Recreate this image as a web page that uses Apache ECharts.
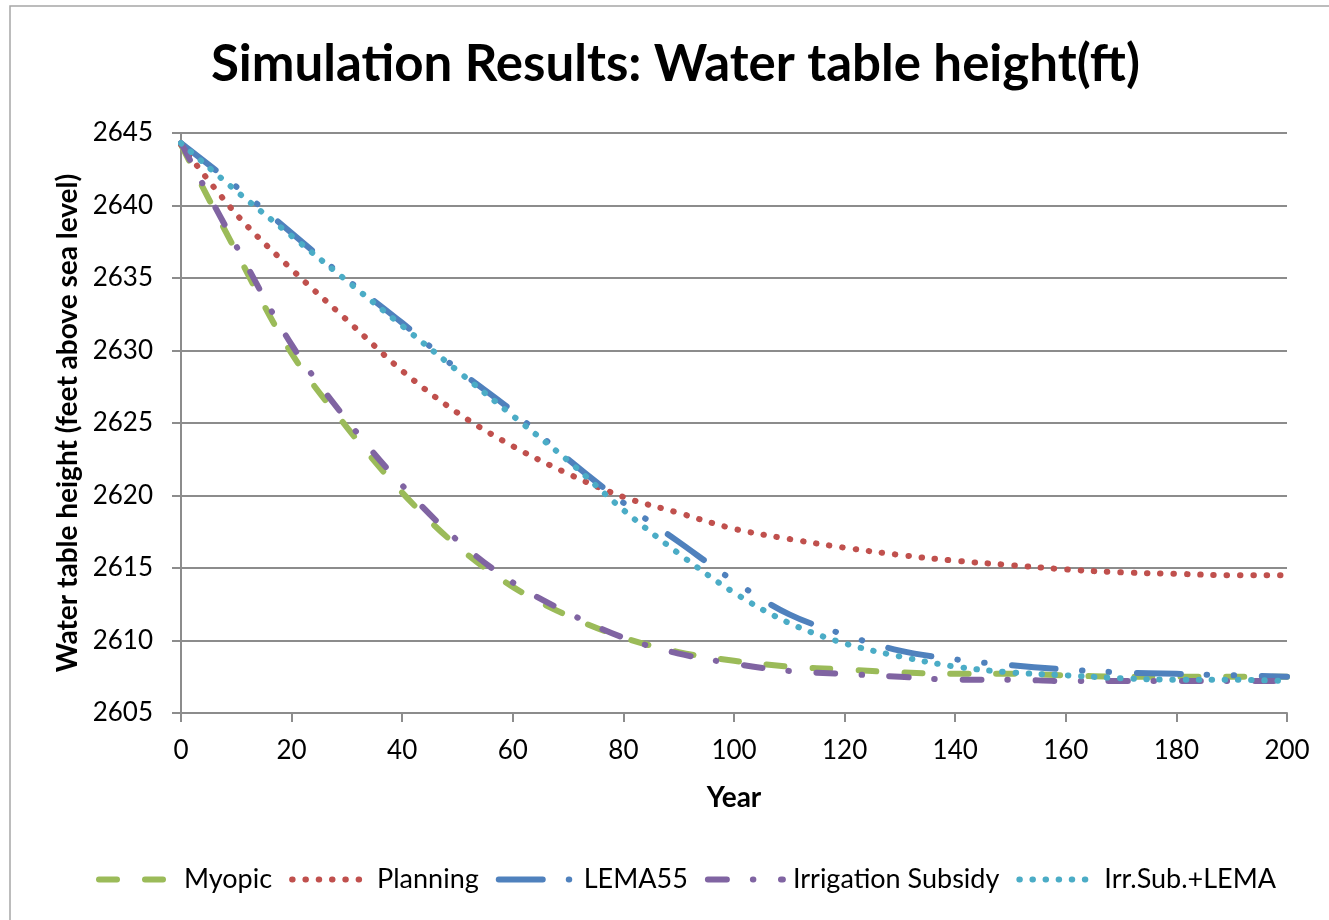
<!DOCTYPE html>
<html>
<head>
<meta charset="utf-8">
<title>Simulation Results: Water table height(ft)</title>
<script src="https://cdn.jsdelivr.net/npm/echarts@6/dist/echarts.min.js"></script>
<style>
  html, body { margin: 0; padding: 0; background: #ffffff; }
  #chart { width: 1329px; height: 920px; }
</style>
</head>
<body>
<div id="chart"></div>
<script>
// Simulated water table height (feet above sea level), sampled every 10 years
const years = [0, 10, 20, 30, 40, 50, 60, 70, 80, 90, 100, 110, 120, 130, 140, 150, 160, 170, 180, 190, 200];

const myopic = [2644.2, 2636.8, 2629.8, 2624.7, 2620.2, 2616.5, 2613.7, 2611.7, 2610.2, 2609.2, 2608.6,
  2608.2, 2608.0, 2607.8, 2607.7, 2607.7, 2607.6, 2607.5, 2607.5, 2607.5, 2607.5];
const planning = [2644.2, 2639.4, 2635.6, 2632.1, 2628.6, 2625.7, 2623.4, 2621.5, 2619.9, 2618.8, 2617.7,
  2617.0, 2616.4, 2615.9, 2615.5, 2615.2, 2614.9, 2614.7, 2614.6, 2614.5, 2614.5];
const lema55 = [2644.3, 2641.3, 2638.1, 2634.9, 2631.9, 2628.7, 2625.8, 2622.5, 2619.5, 2616.8, 2614.1,
  2611.8, 2610.4, 2609.3, 2608.7, 2608.3, 2608.0, 2607.8, 2607.7, 2607.6, 2607.5];
const irrigationSubsidy = [2644.3, 2637.2, 2630.4, 2625.2, 2620.7, 2616.9, 2614.0, 2611.9, 2610.2, 2609.1, 2608.4,
  2607.9, 2607.7, 2607.5, 2607.3, 2607.3, 2607.2, 2607.2, 2607.2, 2607.2, 2607.2];
const irrSubLema = [2644.3, 2641.0, 2637.9, 2634.8, 2631.7, 2628.6, 2625.5, 2622.4, 2619.0, 2616.0, 2613.3,
  2611.2, 2609.8, 2608.9, 2608.2, 2607.8, 2607.6, 2607.4, 2607.3, 2607.3, 2607.2];

const seriesNames = ['Myopic', 'Planning', 'LEMA55', 'Irrigation Subsidy', 'Irr.Sub.+LEMA'];
const seriesValues = [myopic, planning, lema55, irrigationSubsidy, irrSubLema];
const seriesColors = ['#9BBB59', '#C0504D', '#4F81BD', '#8064A2', '#4BACC6'];
// dash patterns (px) drawn with round caps
const seriesDashes = [
  [18, 28],
  [0.5, 12.8],
  [44, 26, 0.5, 26.6, 0.5, 27.4],
  [19, 26, 0.5, 27.6],
  [0.5, 12.6]
];

const FONT = 'Lato, "Open Sans", sans-serif';
const LINE_W = 6;
const chart = echarts.init(document.getElementById('chart'), null, { renderer: 'canvas' });

const series = seriesNames.map((name, i) => ({
  name: name,
  type: 'line',
  data: years.map((y, k) => [y, seriesValues[i][k]]),
  smooth: 0.35,
  showSymbol: false,
  symbol: 'none',
  animation: false,
  color: seriesColors[i],
  lineStyle: {
    color: seriesColors[i],
    width: LINE_W,
    type: seriesDashes[i],
    cap: 'round',
    join: 'round'
  },
  z: 2 + i
}));

chart.setOption({
  backgroundColor: '#ffffff',
  animation: false,
  title: {
    text: 'Simulation Results: Water table height(ft)',
    left: 206,
    top: 34,
    textStyle: { fontFamily: FONT, fontSize: 51, fontWeight: 'bold', color: '#000000' }
  },
  graphic: [{
    type: 'rect',
    shape: { x: 10, y: 6, width: 1340, height: 940 },
    style: { fill: 'none', stroke: '#a6a6a6', lineWidth: 1.5 },
    silent: true,
    z: -1
  }],
  legend: {
    bottom: 22,
    left: 91,
    itemWidth: 75,
    itemHeight: 14,
    itemGap: 17,
    itemStyle: { opacity: 0 },
    lineStyle: { width: LINE_W, cap: 'round' },
    textStyle: { fontFamily: FONT, fontSize: 27, color: '#000000', padding: [0, 0, 0, 5] },
    data: seriesNames
  },
  grid: { left: 181, right: 42, top: 133, bottom: 207, containLabel: false },
  xAxis: {
    type: 'value',
    min: 0, max: 200, interval: 20,
    name: 'Year',
    nameLocation: 'middle',
    nameGap: 71,
    nameTextStyle: { fontFamily: FONT, fontSize: 28, fontWeight: 'bold', color: '#000000' },
    axisLine: { show: true, onZero: false, lineStyle: { color: '#8c8c8c', width: 2 } },
    axisTick: { show: true, inside: false, length: 9, lineStyle: { color: '#8c8c8c', width: 2 } },
    axisLabel: { margin: 25, fontFamily: FONT, fontSize: 26, color: '#000000' },
    splitLine: { show: false }
  },
  yAxis: {
    type: 'value',
    min: 2605, max: 2645, interval: 5,
    name: 'Water table height (feet above sea level)',
    nameLocation: 'middle',
    nameGap: 99,
    nameRotate: 90,
    nameTextStyle: { fontFamily: FONT, fontSize: 28, fontWeight: 'bold', color: '#000000' },
    axisLine: { show: true, lineStyle: { color: '#8c8c8c', width: 2 } },
    axisTick: { show: true, inside: false, length: 9, lineStyle: { color: '#8c8c8c', width: 2 } },
    axisLabel: {
      margin: 28, fontFamily: FONT, fontSize: 26, color: '#000000',
      formatter: (v) => String(v)
    },
    splitLine: { show: true, lineStyle: { color: '#8c8c8c', width: 2 } }
  },
  series: series
});
</script>
</body>
</html>
